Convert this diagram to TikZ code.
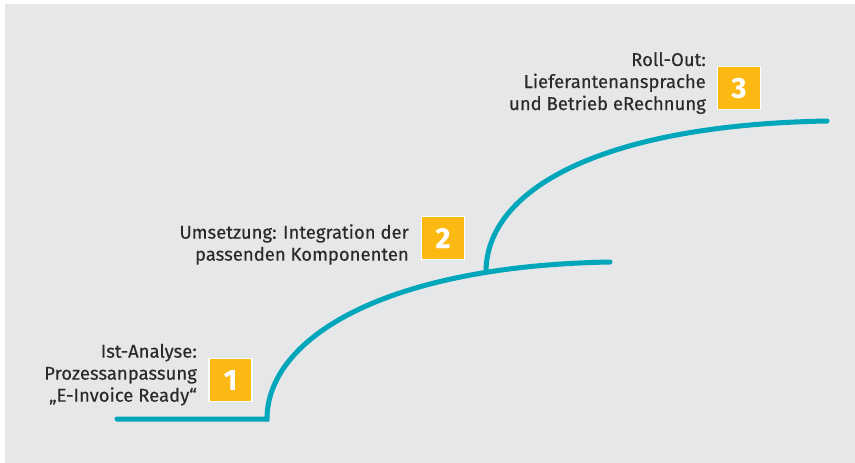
\documentclass[tikz,border=0pt]{standalone}
\usepackage{fontspec}
\setmainfont{Fira Sans}[FakeBold=0.3]
\definecolor{bggray}{HTML}{E6E7E8}
\definecolor{tealline}{HTML}{00A6BA}
\definecolor{amber}{HTML}{FDB913}
\definecolor{txt}{HTML}{2A2A2A}
\begin{document}
\begin{tikzpicture}[x=1pt,y=-1pt,
  stepnum/.style={fill=amber,draw=white,line width=1.5pt,minimum width=43pt,minimum height=43pt,inner sep=0pt,text=white,font=\fontsize{29}{29}\selectfont\bfseries},
  steplabel/.style={align=right,text=txt,font=\fontsize{18.5}{22}\selectfont,inner sep=0pt,anchor=base east},
  curveline/.style={draw=tealline,line width=5pt,line cap=round}]
\useasboundingbox (0,0) rectangle (855,463);
\fill[bggray] (5,4) rectangle (855,463);
\coordinate (s0) at (117,419);
\coordinate (c1) at (267,419);
\coordinate (e1) at (610,262);
\coordinate (b0) at (486,272);
\coordinate (e2) at (827,121);
\draw[curveline] (b0) .. controls (486,190) and (600,125) .. (e2);
\draw[curveline] (s0) -- (c1) .. controls (267,339) and (383,266) .. (e1);
\node[stepnum] (n1) at (230.5,380) {1};
\node[stepnum] (n2) at (443,238) {2};
\node[stepnum] (n3) at (739,88) {3};
\node[steplabel] (t1) at (197,401.7) {Ist-Analyse:\\Prozessanpassung\\„E-Invoice Ready“};
\node[steplabel] (t2) at (409,260.7) {Umsetzung: Integration der\\passenden Komponenten};
\node[steplabel] (t3) at (706,110) {Roll-Out:\\Lieferantenansprache\\und Betrieb eRechnung};
\end{tikzpicture}
\end{document}
